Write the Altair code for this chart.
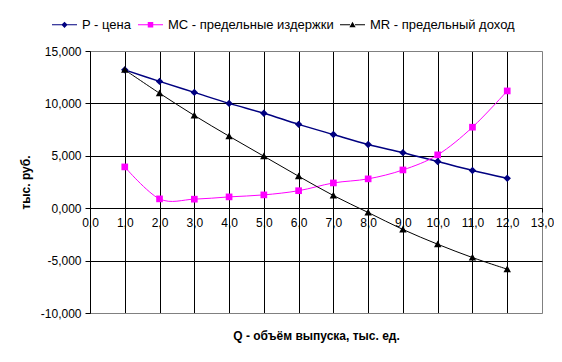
import altair as alt
import pandas as pd

q = [1, 2, 3, 4, 5, 6, 7, 8, 9, 10, 11, 12]
series = ["P - цена", "MC - предельные издержки", "MR - предельный доход"]
p_vals = [13.2, 12.1, 11.05, 10.0, 9.06, 8.0, 7.03, 6.08, 5.3, 4.45, 3.6, 2.85]
mc_vals = [3.94, 0.89, 0.86, 1.08, 1.27, 1.67, 2.41, 2.8, 3.65, 5.09, 7.73, 11.19]
mr_vals = [13.2, 10.97, 8.85, 6.87, 4.96, 3.05, 1.21, -0.41, -2.03, -3.44, -4.71, -5.82]
colors = ["#000080", "#FF00FF", "#000000"]
x_ticks = list(range(0, 14))
y_ticks = [-10, -5, 0, 5, 10, 15]

rows = []
for name, vals in zip(series, [p_vals, mc_vals, mr_vals]):
    for xv, yv in zip(q, vals):
        rows.append({"q": xv, "v": yv, "s": name})
df = pd.DataFrame(rows)

marker_shapes = [
    "M-1,0L0,-1L1,0L0,1Z",
    "M-0.9,-0.9H0.9V0.9H-0.9Z",
    "M0,-1L1,0.8H-1Z",
]
bar = "M-1,-0.045H-0.2V0.045H-1Z M0.2,-0.045H1V0.045H0.2Z "
legend_shapes = [
    bar + "M-0.25,0L0,-0.25L0.25,0L0,0.25Z",
    bar + "M-0.22,-0.22H0.22V0.22H-0.22Z",
    bar + "M0,-0.25L0.25,0.2H-0.25Z",
]

x_enc = alt.X(
    "q:Q",
    scale=alt.Scale(domain=[0, 13], nice=False, zero=False),
    axis=alt.Axis(
        values=x_ticks,
        tickCount=30,
        labelExpr="replace(format(datum.value, '.1f'), '.', ',')",
        labelOverlap=False,
        offset=-105,
        grid=True,
        gridColor={"condition": {"test": "datum.value == 13", "value": "#808080"}, "value": "#000000"},
        gridWidth=1,
        domainColor="#000000",
        tickColor="#000000",
        tickSize=4,
        labelPadding=5,
        labelFlush=False,
        labelFontSize=12,
        labelColor="#000000",
        title="Q - объём выпуска, тыс. ед.",
        titleY=127,
        titleBaseline="middle",
        titleFontWeight="bold",
        titleFontSize=12,
        titleColor="#000000",
    ),
)
y_enc = alt.Y(
    "v:Q",
    scale=alt.Scale(domain=[-10, 15], nice=False, zero=False),
    axis=alt.Axis(
        values=y_ticks,
        tickCount=30,
        labelExpr="(datum.value < 0 ? '-' : '') + replace(format(abs(datum.value), '.3f'), '.', ',')",
        grid=True,
        gridColor={"condition": {"test": "datum.value == 15 || datum.value == -10", "value": "#808080"}, "value": "#000000"},
        gridWidth=1,
        domainColor="#000000",
        tickColor="#000000",
        tickSize=5,
        labelPadding=4,
        labelFontSize=12,
        labelColor="#000000",
        title="тыс. руб.",
        titlePadding=8,
        titleFontWeight="bold",
        titleFontSize=12,
        titleColor="#000000",
    ),
)

base = alt.Chart(df)

lines = base.mark_line(interpolate="cardinal").encode(
    x=x_enc,
    y=y_enc,
    stroke=alt.Stroke("s:N", scale=alt.Scale(domain=series, range=colors), legend=None),
    strokeWidth=alt.condition(alt.datum.s == series[0], alt.value(1.5), alt.value(1)),
    detail="s:N",
)

points = base.mark_point(filled=True, opacity=1, size=55, strokeWidth=0).encode(
    x="q:Q",
    y="v:Q",
    fill=alt.Fill("s:N", scale=alt.Scale(domain=series, range=colors), legend=None),
    shape=alt.Shape("s:N", scale=alt.Scale(domain=series, range=marker_shapes), legend=None),
)

leg = dict(
    title=None,
    orient="none",
    direction="horizontal",
    legendX=-38,
    legendY=-39,
    labelFontSize=13,
    labelColor="#000000",
    labelLimit=0,
    symbolSize=625,
    symbolStrokeWidth=0,
    labelOffset=5,
    columnPadding=6,
    padding=0,
)

legend_layer = base.transform_filter("false").mark_point(filled=True, opacity=1, size=625).encode(
    x="q:Q",
    y="v:Q",
    color=alt.Color("s:N", scale=alt.Scale(domain=series, range=colors), legend=alt.Legend(**leg)),
    shape=alt.Shape("s:N", scale=alt.Scale(domain=series, range=legend_shapes), legend=alt.Legend(**leg)),
)

chart = (
    alt.layer(lines, points, legend_layer)
    .resolve_scale(shape="independent", color="independent")
    .properties(
        width=452,
        height=262,
        autosize=alt.AutoSizeParams(type="none"),
        padding={"left": 82, "top": 43, "right": 12, "bottom": 41},
        background="#FFFFFF",
    )
    .configure_view(stroke="#808080", strokeWidth=1)
    .configure(font="Liberation Sans")
)

chart.save("out.html", embed_options={"renderer": "svg", "actions": False})
